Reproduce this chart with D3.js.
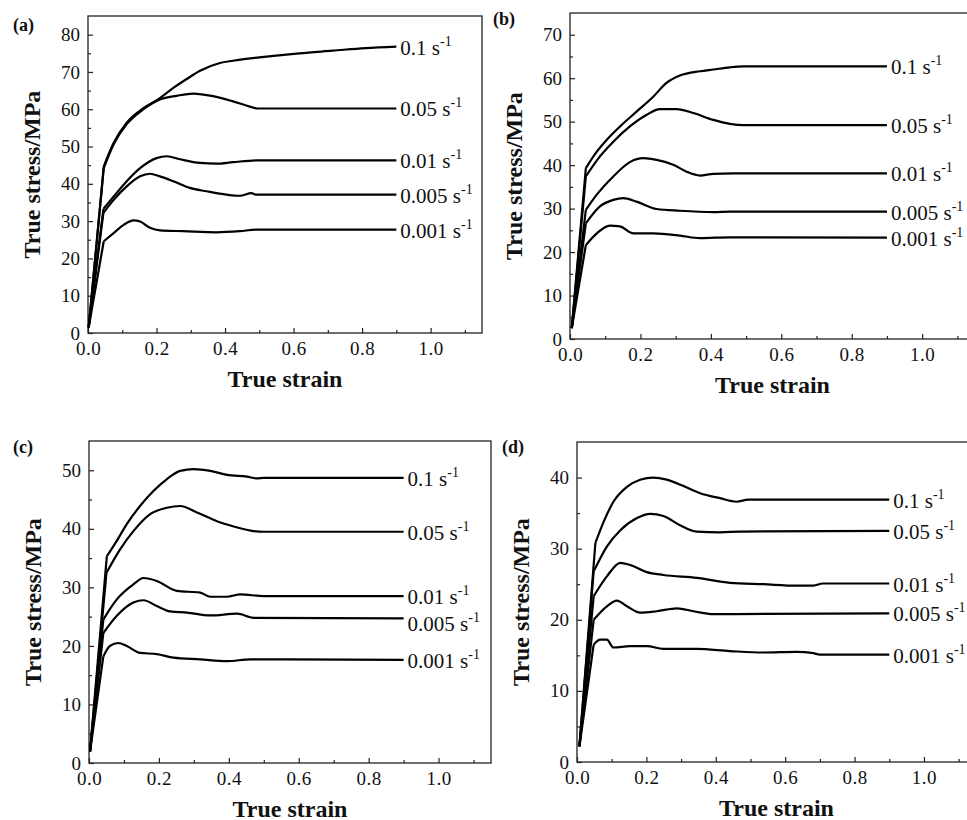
<!DOCTYPE html>
<html>
<head>
<meta charset="utf-8">
<script src="https://cdn.jsdelivr.net/npm/d3@7"></script>
<style>
  body { margin: 0; background: #fff; }
  svg { display: block; }
  text { font-family: "Liberation Serif", "Times New Roman", serif; fill: #111; }
</style>
</head>
<body>
<div id="chart"></div>
<script>
var W = 967, H = 820;
var serif = "'Liberation Serif', 'Times New Roman', serif";

// strain rates, one label per curve (top to bottom)
var rates = ["0.1", "0.05", "0.01", "0.005", "0.001"];

// x ticks shared by all panels
var strainTicks = [0, 0.2, 0.4, 0.6, 0.8, 1.0];
var strainMinor = [0.1, 0.3, 0.5, 0.7, 0.9, 1.1];

// (a) curves: [true strain, true stress MPa]
var curvesA = [
    [[0.002,1.5],[0.046,44.7],[0.075,51],[0.113,56.4],[0.162,60.3],[0.21,63],[0.249,65.7],[0.288,68.1],[0.327,70.3],[0.385,72.4],[0.423,73],[0.5,73.9],[0.617,75],[0.714,75.7],[0.81,76.4],[0.9,76.8]],
    [[0.002,1.5],[0.046,44.2],[0.075,50.6],[0.113,56],[0.162,60],[0.21,62.6],[0.259,63.6],[0.307,64.2],[0.365,63.5],[0.423,62.1],[0.462,61],[0.496,60.2],[0.9,60.2]],
    [[0.002,1.5],[0.045,33.3],[0.075,36.6],[0.113,40.7],[0.152,44.2],[0.2,46.9],[0.23,47.4],[0.268,46.6],[0.327,45.6],[0.375,45.4],[0.423,45.8],[0.496,46.3],[0.9,46.3]],
    [[0.002,1.5],[0.045,32.2],[0.075,35.7],[0.113,39.3],[0.152,42],[0.181,42.7],[0.21,42],[0.249,40.7],[0.297,38.9],[0.346,38],[0.404,37.1],[0.443,36.8],[0.477,37.5],[0.491,37.1],[0.9,37.1]],
    [[0.002,1.5],[0.046,24.6],[0.075,26.8],[0.104,29],[0.133,30.2],[0.152,29.9],[0.181,28.2],[0.21,27.5],[0.278,27.3],[0.375,27],[0.443,27.3],[0.491,27.7],[0.9,27.7]]
];

// (b)
var curvesB = [
    [[0.005,2.5],[0.045,39.3],[0.076,43.1],[0.104,45.8],[0.142,48.9],[0.189,52.3],[0.237,55.8],[0.274,58.9],[0.312,60.6],[0.369,61.6],[0.407,62],[0.454,62.5],[0.492,62.7],[0.9,62.7]],
    [[0.005,2.5],[0.045,37.4],[0.085,42],[0.123,45.4],[0.17,48.9],[0.218,51.6],[0.255,52.9],[0.303,52.9],[0.35,52],[0.407,50.4],[0.454,49.5],[0.492,49.2],[0.9,49.2]],
    [[0.005,2.5],[0.045,29.7],[0.076,33.2],[0.123,37.4],[0.17,40.7],[0.208,41.6],[0.246,41.2],[0.293,40.1],[0.331,38.5],[0.369,37.6],[0.407,38],[0.464,38.1],[0.9,38.1]],
    [[0.005,2.5],[0.045,26.6],[0.085,30.5],[0.123,32],[0.151,32.4],[0.189,31.6],[0.246,29.9],[0.312,29.5],[0.407,29.2],[0.454,29.3],[0.9,29.3]],
    [[0.005,2.5],[0.045,21.6],[0.076,24.3],[0.113,26.1],[0.142,25.9],[0.18,24.3],[0.237,24.3],[0.312,23.8],[0.369,23.2],[0.454,23.4],[0.9,23.3]]
];

// (c)
var curvesC = [
    [[0.003,2],[0.051,35.3],[0.079,37.9],[0.108,40.8],[0.146,43.9],[0.185,46.5],[0.223,48.5],[0.261,49.9],[0.299,50.2],[0.347,49.9],[0.395,49.2],[0.452,48.9],[0.481,48.6],[0.5,48.7],[0.9,48.7]],
    [[0.003,2],[0.05,32.5],[0.089,36.5],[0.127,39.6],[0.175,42.5],[0.223,43.6],[0.261,43.9],[0.309,42.8],[0.366,41.3],[0.414,40.4],[0.462,39.7],[0.5,39.5],[0.9,39.5]],
    [[0.003,2],[0.041,24.5],[0.079,27.9],[0.127,30.5],[0.156,31.6],[0.194,31.1],[0.251,29.4],[0.318,29.1],[0.347,28.4],[0.395,28.4],[0.433,28.8],[0.5,28.5],[0.9,28.5]],
    [[0.003,2],[0.041,22.2],[0.079,25.1],[0.127,27.4],[0.156,27.8],[0.194,26.8],[0.232,25.9],[0.28,25.7],[0.347,25.2],[0.424,25.5],[0.471,24.8],[0.9,24.7]],
    [[0.003,2],[0.041,18.2],[0.06,20],[0.084,20.5],[0.108,20],[0.146,18.8],[0.194,18.6],[0.242,18],[0.318,17.7],[0.395,17.4],[0.462,17.7],[0.9,17.6]]
];

// (d)
var curvesD = [
    [[0.007,2.2],[0.053,30.8],[0.077,33.8],[0.105,36.6],[0.144,38.7],[0.182,39.7],[0.22,40],[0.259,39.7],[0.307,38.8],[0.355,37.8],[0.412,37.1],[0.46,36.6],[0.494,36.9],[0.9,36.9]],
    [[0.007,2.2],[0.048,26.8],[0.086,30.3],[0.125,32.6],[0.173,34.3],[0.211,34.9],[0.249,34.6],[0.297,33.3],[0.345,32.4],[0.412,32.3],[0.47,32.4],[0.9,32.5]],
    [[0.007,2.2],[0.048,23.3],[0.086,26.1],[0.125,28],[0.153,27.7],[0.201,26.7],[0.249,26.3],[0.345,25.9],[0.441,25.2],[0.537,25],[0.633,24.8],[0.681,24.8],[0.709,25.1],[0.9,25.1]],
    [[0.007,2.2],[0.048,20],[0.086,21.9],[0.115,22.7],[0.144,21.9],[0.182,21],[0.23,21.2],[0.288,21.6],[0.336,21.2],[0.393,20.8],[0.451,20.8],[0.9,20.9]],
    [[0.007,2.2],[0.048,16.5],[0.067,17.2],[0.086,17.2],[0.105,16.1],[0.153,16.3],[0.201,16.3],[0.249,15.9],[0.345,15.9],[0.441,15.6],[0.537,15.4],[0.633,15.5],[0.681,15.3],[0.7,15.1],[0.9,15.1]]
];

var stressMaxes = [85, 75, 55, 45];

// panel frames in page pixels
var panels = [
    {tag: "(a)", curves: curvesA, yMax: stressMaxes[0], left: 88,  top: 16,  right: 482, bottom: 333, tagX: 13,  tagY: 31},
    {tag: "(b)", curves: curvesB, yMax: stressMaxes[1], left: 570, top: 13,  right: 975, bottom: 339, tagX: 493, tagY: 25},
    {tag: "(c)", curves: curvesC, yMax: stressMaxes[2], left: 89,  top: 441, right: 491, bottom: 763, tagX: 13,  tagY: 453},
    {tag: "(d)", curves: curvesD, yMax: stressMaxes[3], left: 577, top: 442, right: 976, bottom: 762, tagX: 502, tagY: 453}
];

var svg = d3.select("#chart")
    .append("svg")
    .attr("width", W)
    .attr("height", H)
    .attr("font-family", serif);

panels.forEach(function (p, pi) {
    var x = d3.scaleLinear().domain([0, 1.15]).range([p.left, p.right]);
    var y = d3.scaleLinear().domain([0, p.yMax]).range([p.bottom, p.top]);

    var g = svg.append("g");

    // frame
    g.append("rect")
        .attr("x", p.left)
        .attr("y", p.top)
        .attr("width", p.right - p.left)
        .attr("height", p.bottom - p.top)
        .attr("fill", "none")
        .attr("stroke", "#222")
        .attr("stroke-width", 1.3);

    // x axis, ticks pointing inward
    var xAxis = d3.axisBottom(x)
        .tickValues(strainTicks)
        .tickSize(-5)
        .tickPadding(9)
        .tickFormat(d3.format(".1f"));
    var gx = g.append("g")
        .attr("transform", "translate(0," + p.bottom + ")")
        .call(xAxis)
        .attr("font-family", serif);
    gx.select(".domain").remove();
    gx.selectAll("text")
        .attr("dy", "0.71em")
        .style("font-family", serif)
        .style("font-size", "19px")
        .style("letter-spacing", "0.5px")
        .attr("fill", "#111");
    gx.selectAll("line").attr("stroke", "#222").attr("stroke-width", 1.2);

    g.append("g")
        .attr("transform", "translate(0," + p.bottom + ")")
        .call(d3.axisBottom(x).tickValues(strainMinor).tickSize(-3).tickFormat(""))
        .call(function (s) { s.select(".domain").remove(); })
        .selectAll("line").attr("stroke", "#222").attr("stroke-width", 1.2);

    // y axis
    var yMajor = d3.range(0, p.yMax, 10);
    var yMinor = d3.range(5, p.yMax, 10);
    var gy = g.append("g")
        .attr("transform", "translate(" + p.left + ",0)")
        .call(d3.axisLeft(y).tickValues(yMajor).tickSize(-5).tickPadding(8))
        .attr("font-family", serif);
    gy.select(".domain").remove();
    gy.selectAll("text")
        .style("font-family", serif)
        .style("font-size", "19px")
        .attr("fill", "#111");
    gy.selectAll("line").attr("stroke", "#222").attr("stroke-width", 1.2);

    g.append("g")
        .attr("transform", "translate(" + p.left + ",0)")
        .call(d3.axisLeft(y).tickValues(yMinor).tickSize(-3).tickFormat(""))
        .call(function (s) { s.select(".domain").remove(); })
        .selectAll("line").attr("stroke", "#222").attr("stroke-width", 1.2);

    // axis titles
    g.append("text")
        .attr("x", (p.left + p.right) / 2)
        .attr("y", p.bottom + 54)
        .attr("text-anchor", "middle")
        .style("font-size", "24px")
        .style("font-weight", "bold")
        .text("True strain");

    g.append("text")
        .attr("transform", "translate(" + (p.left - 48) + "," + ((p.top + p.bottom) / 2) + ") rotate(-90)")
        .attr("text-anchor", "middle")
        .style("font-size", "24px")
        .style("font-weight", "bold")
        .text("True stress/MPa");

    // panel tag
    g.append("text")
        .attr("x", p.tagX)
        .attr("y", p.tagY)
        .style("font-size", "18px")
        .style("font-weight", "bold")
        .text(p.tag);

    // curves: straight elastic rise, then smooth plastic part
    var elastic = d3.line()
        .x(function (d) { return x(d[0]); })
        .y(function (d) { return y(d[1]); });
    var plastic = d3.line()
        .x(function (d) { return x(d[0]); })
        .y(function (d) { return y(d[1]); })
        .curve(d3.curveMonotoneX);

    p.curves.forEach(function (c, ci) {
        g.append("path")
            .datum(c.slice(0, 2))
            .attr("d", elastic)
            .attr("fill", "none")
            .attr("stroke", "#000")
            .attr("stroke-width", 2.2);

        g.append("path")
            .datum(c.slice(1))
            .attr("d", plastic)
            .attr("fill", "none")
            .attr("stroke", "#000")
            .attr("stroke-width", 2.2)
            .attr("stroke-linejoin", "round");

        var last = c[c.length - 1];
        // (c) 0.005 label sits a bit lower to clear the 0.01 label
        var dy = (pi === 2 && ci === 3) ? 13 : 8;
        var lbl = g.append("text")
            .attr("x", x(last[0]) + 4)
            .attr("y", y(last[1]) + dy)
            .style("font-size", "21px");
        lbl.append("tspan").text(rates[ci] + " s");
        lbl.append("tspan")
            .attr("dy", -9)
            .style("font-size", "14px")
            .text("-1");
    });
});
</script>
</body>
</html>
